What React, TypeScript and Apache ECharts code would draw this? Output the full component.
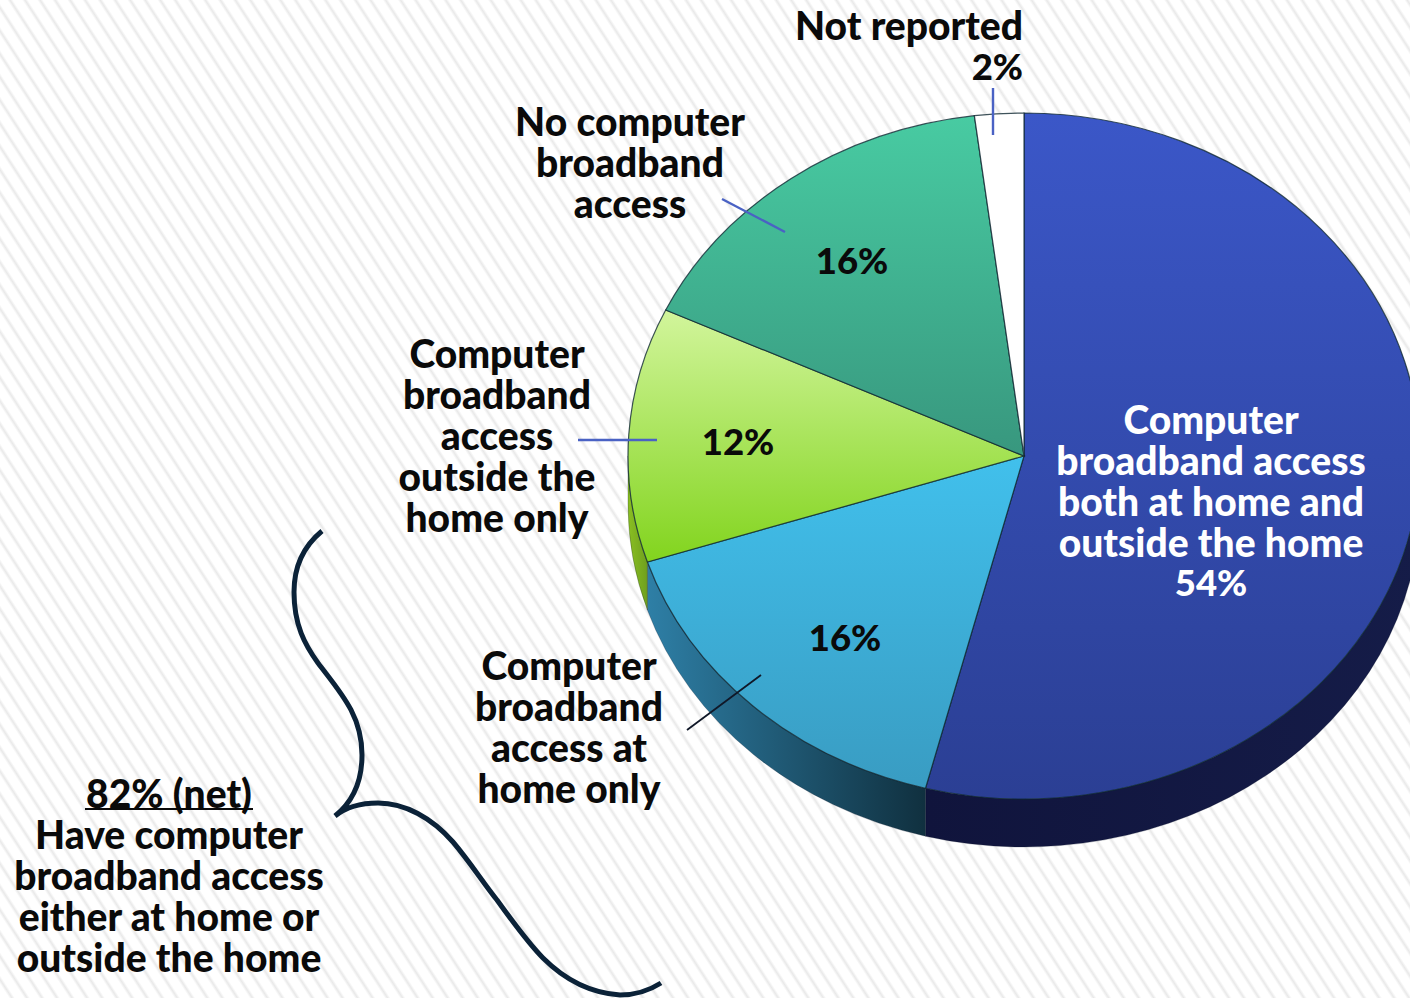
import React, { useEffect, useRef } from "react";
import * as echarts from "echarts";

const categories = [
  "Computer broadband access both at home and outside the home",
  "Computer broadband access at home only",
  "Computer broadband access outside the home only",
  "No computer broadband access",
  "Not reported",
];
const values = [54, 16, 12, 16, 2];
const topColors = [
  ["#3B57C8", "#2B3F94"],
  ["#41C0EC", "#399CC2"],
  ["#D2F59C", "#82D41E"],
  ["#48CBA2", "#38977E"],
  ["#FFFFFF", "#FFFFFF"],
];
const wallColors = [
  ["#10143C", "#151C48"],
  ["#2E7FA6", "#10303F"],
  ["#8ABF22", "#6FA01E"],
  ["#3A9A80", "#2C7A64"],
  ["#DDDDDD", "#CCCCCC"],
];

const FONT = "Lato";
const CX = 1024;
const CY = 456;
const RX = 396;
const RY = 343;
const DEPTH = 48;

const pt = (t: number, dy = 0) => [
  CX + RX * Math.sin(t),
  CY - RY * Math.cos(t) + dy,
];

const total = values.reduce((a, b) => a + b, 0);
const startOf = (i: number) =>
  (values.slice(0, i).reduce((a, b) => a + b, 0) / total) * Math.PI * 2;

function topPath(a: number, b: number) {
  const p0 = pt(a);
  const p1 = pt(b);
  const large = b - a > Math.PI ? 1 : 0;
  return `M${CX} ${CY}L${p0[0]} ${p0[1]}A${RX} ${RY} 0 ${large} 1 ${p1[0]} ${p1[1]}Z`;
}

function wallPath(a: number, b: number) {
  const lo = Math.max(a, Math.PI / 2);
  const hi = Math.min(b, (Math.PI * 3) / 2);
  if (hi <= lo) return null;
  const p0 = pt(lo);
  const p1 = pt(hi);
  const q1 = pt(hi, DEPTH);
  const q0 = pt(lo, DEPTH);
  return `M${p0[0]} ${p0[1]}A${RX} ${RY} 0 0 1 ${p1[0]} ${p1[1]}L${q1[0]} ${q1[1]}A${RX} ${RY} 0 0 0 ${q0[0]} ${q0[1]}Z`;
}

const renderSlice = (params: any) => {
  const i = params.dataIndex;
  const a = startOf(i);
  const b = startOf(i + 1);
  const children: any[] = [];
  const wall = wallPath(a, b);
  if (wall) {
    children.push({
      type: "path",
      shape: { pathData: wall },
      style: {
        fill: new echarts.graphic.LinearGradient(0, 0, 1, 0, [
          { offset: 0, color: wallColors[i][0] },
          { offset: 1, color: wallColors[i][1] },
        ]),
        stroke: "rgba(10,20,40,0.5)",
        lineWidth: 0.5,
      },
    });
  }
  children.push({
    type: "path",
    shape: { pathData: topPath(a, b) },
    style: {
      fill: new echarts.graphic.LinearGradient(0, 0, 0, 1, [
        { offset: 0, color: topColors[i][0] },
        { offset: 1, color: topColors[i][1] },
      ]),
      stroke: "rgba(15,40,50,0.8)",
      lineWidth: 1.2,
    },
  });
  return { type: "group", children };
};

const BRACE =
  "M322 531C305 545 294 565 294 592C294 625 305 645 318 663C340 692 362 715 362 755C362 778 355 800 335 816C345 808 360 803 378 803C405 803 432 818 453 842C470 862 484 884 497 900C515 925 530 945 543 958C565 980 590 993 620 995C635 995 650 990 661 983";

const label = (
  text: string,
  x: number,
  y: number,
  fill = "#0A0A0A",
  align = "center",
  fontSize = 39
) => ({
  type: "text",
  z: 10,
  x,
  y,
  silent: true,
  style: {
    text,
    fill,
    align,
    verticalAlign: "middle",
    fontFamily: FONT,
    fontWeight: 900,
    fontSize,
    lineHeight: 41,
  },
});

const pct = (i: number, x: number, y: number, fill = "#0A0A0A") =>
  label(`${values[i]}%`, x, y, fill, "center", 36.5);

const leader = (x1: number, y1: number, x2: number, y2: number, stroke = "#4A62C4", lineWidth = 2.4) => ({
  type: "line",
  z: 9,
  silent: true,
  shape: { x1, y1, x2, y2 },
  style: { stroke, lineWidth },
});

export default function App() {
  const ref = useRef<HTMLDivElement>(null);
  useEffect(() => {
    if (!ref.current) return;
    echarts.graphic.registerShape(
      "brace",
      echarts.graphic.extendPath(BRACE, {})
    );
    const chart = echarts.init(ref.current, undefined, { renderer: "svg" });
    chart.setOption({
      animation: false,
      backgroundColor: "transparent",
      series: [
        {
          type: "custom",
          coordinateSystem: "none",
          silent: true,
          data: values.map((v, i) => ({ name: categories[i], value: v })),
          renderItem: renderSlice,
        },
      ],
      graphic: {
        elements: [
          leader(993, 88, 993, 135),
          leader(722, 199, 785, 232),
          leader(578, 440, 657, 440),
          leader(761, 675, 687, 730, "#101828", 1.8),
          {
            type: "brace",
            z: 9,
            silent: true,
            style: { fill: "none", stroke: "#0B2238", lineWidth: 5 },
          },
          label("Not reported", 1023, 25, "#0A0A0A", "right"),
          label(`${values[4]}%`, 1023, 66, "#0A0A0A", "right", 36.5),
          label("No computer\nbroadband\naccess", 630, 162),
          pct(3, 852, 260),
          label("Computer\nbroadband\naccess\noutside the\nhome only", 497, 435),
          pct(2, 738, 441),
          label("Computer\nbroadband\naccess at\nhome only", 569, 726),
          pct(1, 845, 637),
          label(
            "Computer\nbroadband access\nboth at home and\noutside the home",
            1211,
            480,
            "#FFFFFF"
          ),
          pct(0, 1211, 582, "#FFFFFF"),
          label(
            "82% (net)\nHave computer\nbroadband access\neither at home or\noutside the home",
            169,
            875
          ),
          leader(85, 809, 253, 809, "#0A0A0A", 2),
        ],
      },
    });
    return () => chart.dispose();
  }, []);
  return (
    <div
      ref={ref}
      style={{
        position: "absolute",
        left: 0,
        top: 0,
        width: 1410,
        height: 998,
        overflow: "hidden",
        background:
          "repeating-linear-gradient(57deg, #FFFFFF 0px, #FFFFFF 7.6px, #E9E9E9 10.1px, #FFFFFF 12.6px)",
      }}
    />
  );
}
